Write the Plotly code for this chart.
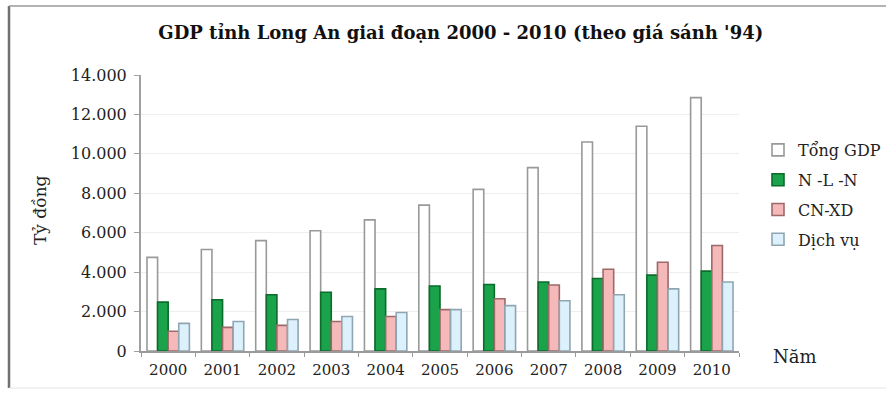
import plotly.graph_objects as go

years = ["2000", "2001", "2002", "2003", "2004", "2005", "2006", "2007", "2008", "2009", "2010"]
tong_gdp = [4750, 5150, 5600, 6100, 6650, 7400, 8200, 9300, 10600, 11400, 12850]
nong_lam_ngu = [2480, 2600, 2850, 2980, 3150, 3300, 3370, 3500, 3680, 3850, 4050]
cong_nghiep_xd = [1000, 1200, 1300, 1500, 1750, 2100, 2650, 3350, 4150, 4500, 5350]
dich_vu = [1400, 1500, 1600, 1750, 1950, 2100, 2300, 2550, 2850, 3150, 3500]

y_ticks = [0, 2000, 4000, 6000, 8000, 10000, 12000, 14000]
y_tick_labels = ["0", "2.000", "4.000", "6.000", "8.000", "10.000", "12.000", "14.000"]

SERIF = "DejaVu Serif"
TEXT = "#222222"

series = [
    ("Tổng GDP", tong_gdp, "#ffffff", "#999999"),
    ("N -L -N", nong_lam_ngu, "#1aa34a", "#0d6b2c"),
    ("CN-XD", cong_nghiep_xd, "#f5b9b9", "#9c6a6a"),
    ("Dịch vụ", dich_vu, "#dcf1fb", "#8fa6b2"),
]

fig = go.Figure()
for i, (name, vals, fill, edge) in enumerate(series):
    fig.add_trace(go.Bar(
        x=years, y=vals, name=name,
        legendgroup=f"g{i}",
        marker=dict(color=fill, line=dict(color=edge, width=1.6)),
    ))

# plot area in pixels: x 141..739, y 75..351
L, R, T, B = 141, 739, 75, 351
W, H = R - L, B - T

def px(xp):
    return (xp - L) / W

def py(yp):
    return (B - yp) / H

shapes = [
    # outer frame
    dict(type="line", xref="paper", yref="paper", x0=px(9), x1=px(9), y0=py(6), y1=py(388),
         line=dict(color="#707070", width=2.5)),
    dict(type="line", xref="paper", yref="paper", x0=px(9), x1=px(890), y0=py(6), y1=py(6),
         line=dict(color="#9a9a9a", width=1.5)),
    dict(type="line", xref="paper", yref="paper", x0=px(9), x1=px(890), y0=py(388), y1=py(388),
         line=dict(color="#e4e4e4", width=1)),
]

fig.update_layout(
    width=886, height=394,
    margin=dict(l=L, r=886 - R, t=T, b=394 - B, autoexpand=False),
    paper_bgcolor="white", plot_bgcolor="white",
    barmode="group", bargap=0.22, bargroupgap=0.0,
    separators=",.",
    font=dict(family=SERIF, color=TEXT, size=15),
    title=dict(
        text="<b>GDP tỉnh Long An giai đoạn 2000 - 2010 (theo giá sánh '94)</b>",
        x=px(452), xanchor="center", y=1 - 33 / 394, yanchor="middle",
        font=dict(family=SERIF, size=18, color="#111111"),
    ),
    xaxis=dict(
        type="category", showgrid=False, showline=True, linecolor="#9a9a9a", linewidth=1.5,
        ticks="outside", ticklen=4, tickcolor="#9a9a9a", tickson="boundaries",
        ticklabelstandoff=4,
        tickfont=dict(family=SERIF, size=15, color=TEXT),
    ),
    yaxis=dict(
        range=[0, 14000], tickvals=y_ticks, ticktext=y_tick_labels,
        showgrid=True, gridcolor="#eeeeee", gridwidth=1,
        showline=True, linecolor="#a0a0a0", linewidth=2,
        ticks="outside", ticklen=5, tickcolor="#a0a0a0",
        ticklabelstandoff=4,
        tickfont=dict(family=SERIF, size=16, color=TEXT),
        zeroline=False,
    ),
    legend=dict(
        x=px(758), xanchor="left", y=py(133), yanchor="top",
        traceorder="grouped", tracegroupgap=6,
        font=dict(family=SERIF, size=16, color=TEXT),
        bgcolor="rgba(0,0,0,0)", itemwidth=30,
    ),
    shapes=shapes,
    annotations=[
        dict(text="Tỷ đồng", xref="paper", yref="paper", x=px(40), y=py(210),
             xanchor="center", yanchor="middle", textangle=-90, showarrow=False,
             font=dict(family=SERIF, size=17, color=TEXT)),
        dict(text="Năm", xref="paper", yref="paper", x=px(771), y=py(356),
             xanchor="left", yanchor="middle", showarrow=False,
             font=dict(family=SERIF, size=18, color=TEXT)),
    ],
)

fig.write_html("out.html")
